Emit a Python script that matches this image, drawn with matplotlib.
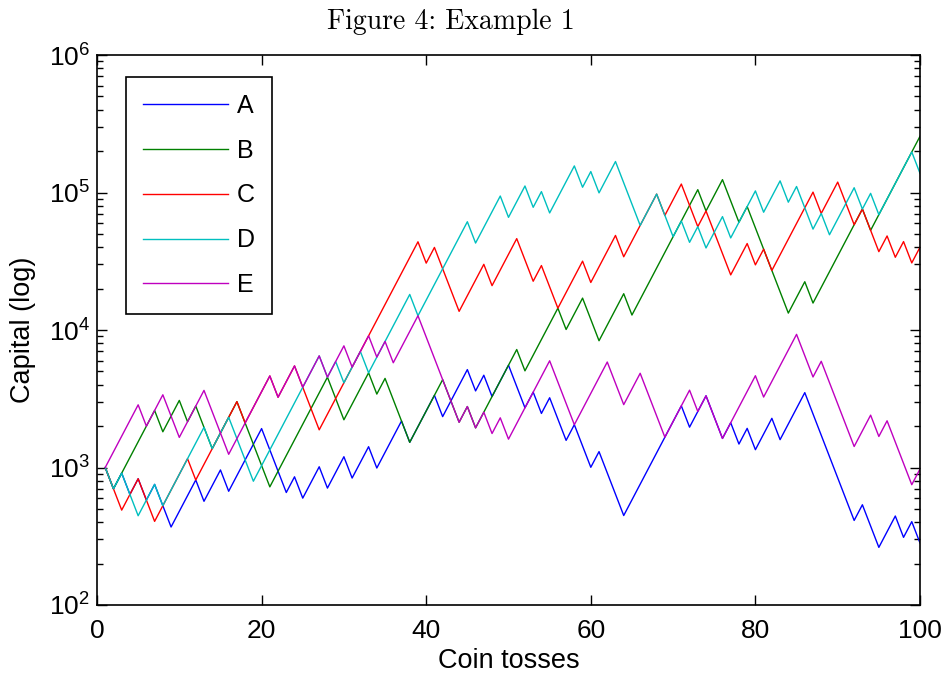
import numpy as np
import matplotlib
matplotlib.use("Agg")
import matplotlib.pyplot as plt
from matplotlib.ticker import LogLocator, NullFormatter, FixedLocator

# ---- data: coin-toss outcomes (U = win, D = loss) ----
start_capital = 1000
win_factor = 1.3
loss_factor = 0.7
tosses = np.arange(1, 101)

series_names = ["A", "B", "C", "D", "E"]
series_colors = [(0, 0, 1), (0, 0.5, 0), (1, 0, 0), (0, 0.75, 0.75), (0.75, 0, 0.75)]

A_outcomes = ("DUD" "UDUDDUUUD" "UUDUUUUDDDUD" "UUDUUDUUDUUU" "DUUUDUUUDUD"
              "UUDDUDUDDUDDUD" "DDUUUUUUUDU" "UDDUDUDUUDUUU" "DDDDDDUDDUUDUD")
B_outcomes = ("DUUUUUDUUDUD" "DUUUDDDDUUUU" "UUUDDUUUDUDD" "DUUUUDDUDUUU"
              "UUDUUUUDUUDD" "UUUDUUUUUUUU" "DUUDDUDDDDDU" "UDUUUUUUDUUUUUU")
C_outcomes = ("DDUUDDUUUUDU" "UUUUDUUUDUUD" "DDUUUUUUUUUU" "UUDUDDDUUUDU"
              "UUDDUDDUUUDU" "UUDUUUUDUUDD" "UDDDUUDUDUUUU" "UDUUDDUDDUDUDU")
D_outcomes = ("DUDDUUDUUUUU" "DUUDDDUUUUUU" "UUDUDUUDUUUU" "UDUUUUUUDUUU"
              "DUUDUDUUUDUD" "UUDDDUUDDUDU" "DUUDUUUDUUDU" "DDUDUUUDUDUUUUD")
E_outcomes = ("UUUUDUUDDUUU" "DDDUUUUUDUUD" "UUDUUDUUDUDU" "UUDDDDDUDUDU"
              "DUUUUUDDDUUU" "UDDUUDDDUUUD" "UDDUUUUDUUUU" "DDUDDDDUUDUDDDU")
outcomes = [A_outcomes, B_outcomes, C_outcomes, D_outcomes, E_outcomes]

title_text = "Figure 4: Example 1"
x_label = "Coin tosses"
y_label = "Capital (log)"

# ---- figure ----
plt.rcParams["font.family"] = ["Liberation Sans", "DejaVu Sans"]
plt.rcParams["mathtext.fontset"] = "custom"
plt.rcParams["mathtext.rm"] = "Liberation Sans"
plt.rcParams["mathtext.it"] = "Liberation Sans:italic"

fig = plt.figure(figsize=(9.46, 6.75), dpi=100)
ax = fig.add_axes([97 / 946, 1 - 605 / 675, 823 / 946, 550 / 675])

for name, col, seq in zip(series_names, series_colors, outcomes):
    factors = np.array([win_factor if c == "U" else loss_factor for c in seq])
    capital = start_capital * np.concatenate([[1.0], np.cumprod(factors)])
    ax.plot(tosses, capital, color=col, lw=1.0, label=name)

ax.set_yscale("log")
ax.set_xlim(0, 100)
ax.set_ylim(1e2, 1e6)
ax.set_xticks([0, 20, 40, 60, 80, 100])
ax.yaxis.set_major_locator(FixedLocator([1e2, 1e3, 1e4, 1e5, 1e6]))
ax.yaxis.set_minor_locator(LogLocator(base=10, subs=np.arange(2, 10), numticks=20))
ax.yaxis.set_minor_formatter(NullFormatter())

ax.tick_params(axis="both", which="both", direction="in", top=True, right=True,
               labelsize=19, width=1.0)
ax.tick_params(axis="both", which="major", length=7)
ax.tick_params(axis="both", which="minor", length=4)
ax.tick_params(axis="x", pad=10)
ax.tick_params(axis="y", pad=5)
for sp in ax.spines.values():
    sp.set_linewidth(1.2)

ax.set_xlabel(x_label, fontsize=19.5, labelpad=4)
ax.set_ylabel(y_label, fontsize=19.5, labelpad=9)

fig.text(0.477, 0.968, title_text, ha="center", va="center", fontsize=20,
         family=["cmr10", "DejaVu Serif"])

leg = ax.legend(loc="upper left", bbox_to_anchor=((126 - 97) / 823, (605 - 77) / 550),
                borderaxespad=0, fontsize=18, handlelength=3.4, labelspacing=0.83,
                borderpad=0.68, handletextpad=0.35, fancybox=False, framealpha=1,
                edgecolor="black")
leg.get_frame().set_linewidth(1.2)

fig.savefig("out.png", dpi=100)
